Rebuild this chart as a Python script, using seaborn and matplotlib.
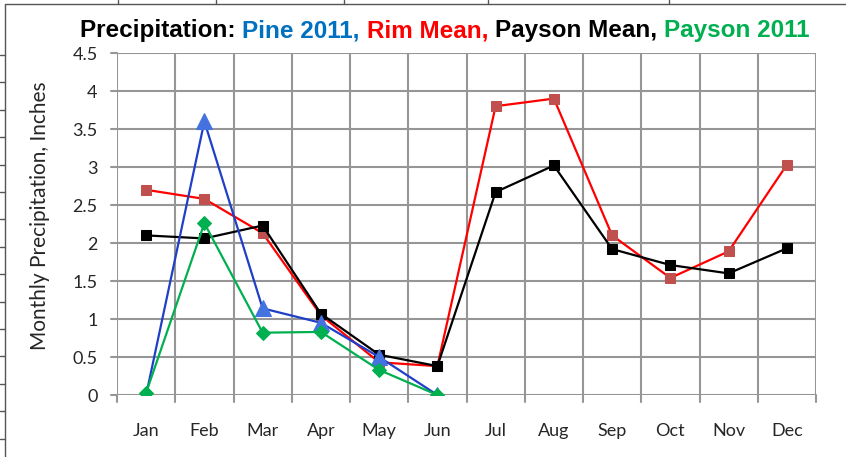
import matplotlib
matplotlib.use("Agg")
import matplotlib.pyplot as plt
from matplotlib.lines import Line2D
import seaborn as sns
import numpy as np
import pandas as pd

months = ["Jan", "Feb", "Mar", "Apr", "May", "Jun",
          "Jul", "Aug", "Sep", "Oct", "Nov", "Dec"]
pine_2011 = [0.0, 3.60, 1.14, 0.95, 0.50, 0.0]
rim_mean = [2.70, 2.58, 2.13, 1.05, 0.43, 0.38, 3.80, 3.90, 2.10, 1.54, 1.89, 3.03]
payson_mean = [2.10, 2.06, 2.23, 1.07, 0.53, 0.38, 2.67, 3.02, 1.92, 1.71, 1.60, 1.93]
payson_2011 = [0.03, 2.26, 0.82, 0.83, 0.33, 0.0]
yticks = [0, 0.5, 1, 1.5, 2, 2.5, 3, 3.5, 4, 4.5]
ytick_labels = ["0", "0.5", "1", "1.5", "2", "2.5", "3", "3.5", "4", "4.5"]

sns.set_style("white")
plt.rcParams['font.family'] = ['Lato', 'DejaVu Sans']

fig = plt.figure(figsize=(8.46, 4.57), dpi=100)
ax = fig.add_axes([117 / 846, 1 - 395 / 457, (816 - 117) / 846, (395 - 53) / 457])

x = np.arange(len(months))
series = [
    ("Rim Mean", rim_mean, "#FF0000", "#C0504D", "s", 7.3),
    ("Payson Mean", payson_mean, "#000000", "#000000", "s", 7.3),
    ("Pine 2011", pine_2011, "#1F3FC8", "#4472E0", "^", 12),
    ("Payson 2011", payson_2011, "#00B050", "#00B050", "D", 7.5),
]
for name, vals, lc, mc, mk, ms in series:
    df = pd.DataFrame({"x": x[:len(vals)], "y": vals})
    sns.lineplot(data=df, x="x", y="y", ax=ax, color=lc, linewidth=1.6,
                 marker=mk, markersize=ms, markerfacecolor=mc,
                 markeredgecolor=mc, zorder=3)

ax.set_xlim(-0.5, 11.5)
ax.set_ylim(0, 4.5)
ax.set_yticks(yticks)
ax.set_yticklabels(ytick_labels, fontsize=13)
ax.set_xticks(x)
ax.set_xticklabels(months, fontsize=13)
ax.tick_params(axis="x", length=0, pad=20)
ax.tick_params(axis="y", length=0, pad=14)

# grid lines sit on the category boundaries
for b in np.arange(-0.5, 12, 1):
    ax.axvline(b, color="#969696", linewidth=1.5, zorder=1)
    ax.plot([b, b], [0, -0.09], color="#969696", linewidth=1.5, clip_on=False)
for yv in yticks:
    ax.axhline(yv, color="#969696", linewidth=1.5, zorder=1)
    ax.plot([-0.5, -0.6], [yv, yv], color="#969696", linewidth=1.5, clip_on=False)
for s in ax.spines.values():
    s.set_visible(False)

ax.set_xlabel("")
ax.set_ylabel("Monthly Precipitation, Inches", fontsize=15)
ax.yaxis.set_label_coords((50 - 117) / 699, (395 - 216) / 342)

# multi-coloured title
pieces = [("Precipitation: ", "#000000"), ("Pine 2011, ", "#0070C0"),
          ("Rim Mean, ", "#FF0000"), ("Payson Mean, ", "#000000"),
          ("Payson 2011", "#00B050")]
fig.canvas.draw()
r = fig.canvas.get_renderer()
tx = 80 / 846
for txt, col in pieces:
    t = fig.text(tx, 1 - 37.5 / 457, txt, color=col, fontsize=17.5, fontweight="bold",
                 family=["Liberation Sans", "DejaVu Sans"], va="baseline", ha="left")
    bb = t.get_window_extent(renderer=r)
    tx += bb.width / fig.bbox.width

# spreadsheet cell borders around the chart
border = "#555555"
fig.add_artist(Line2D([5 / 846, 5 / 846], [0, 1 - 4 / 457], color=border, linewidth=1))
fig.add_artist(Line2D([5 / 846, 1], [1 - 4 / 457, 1 - 4 / 457], color=border, linewidth=1))
for ry in np.arange(55, 457, 27.4):
    fig.add_artist(Line2D([0, 5 / 846], [1 - ry / 457, 1 - ry / 457], color=border, linewidth=1))
for cx in [118, 216, 344, 488, 669]:
    fig.add_artist(Line2D([cx / 846, cx / 846], [1, 1 - 4 / 457], color=border, linewidth=1))

fig.savefig("out.png", dpi=100, facecolor="white")
